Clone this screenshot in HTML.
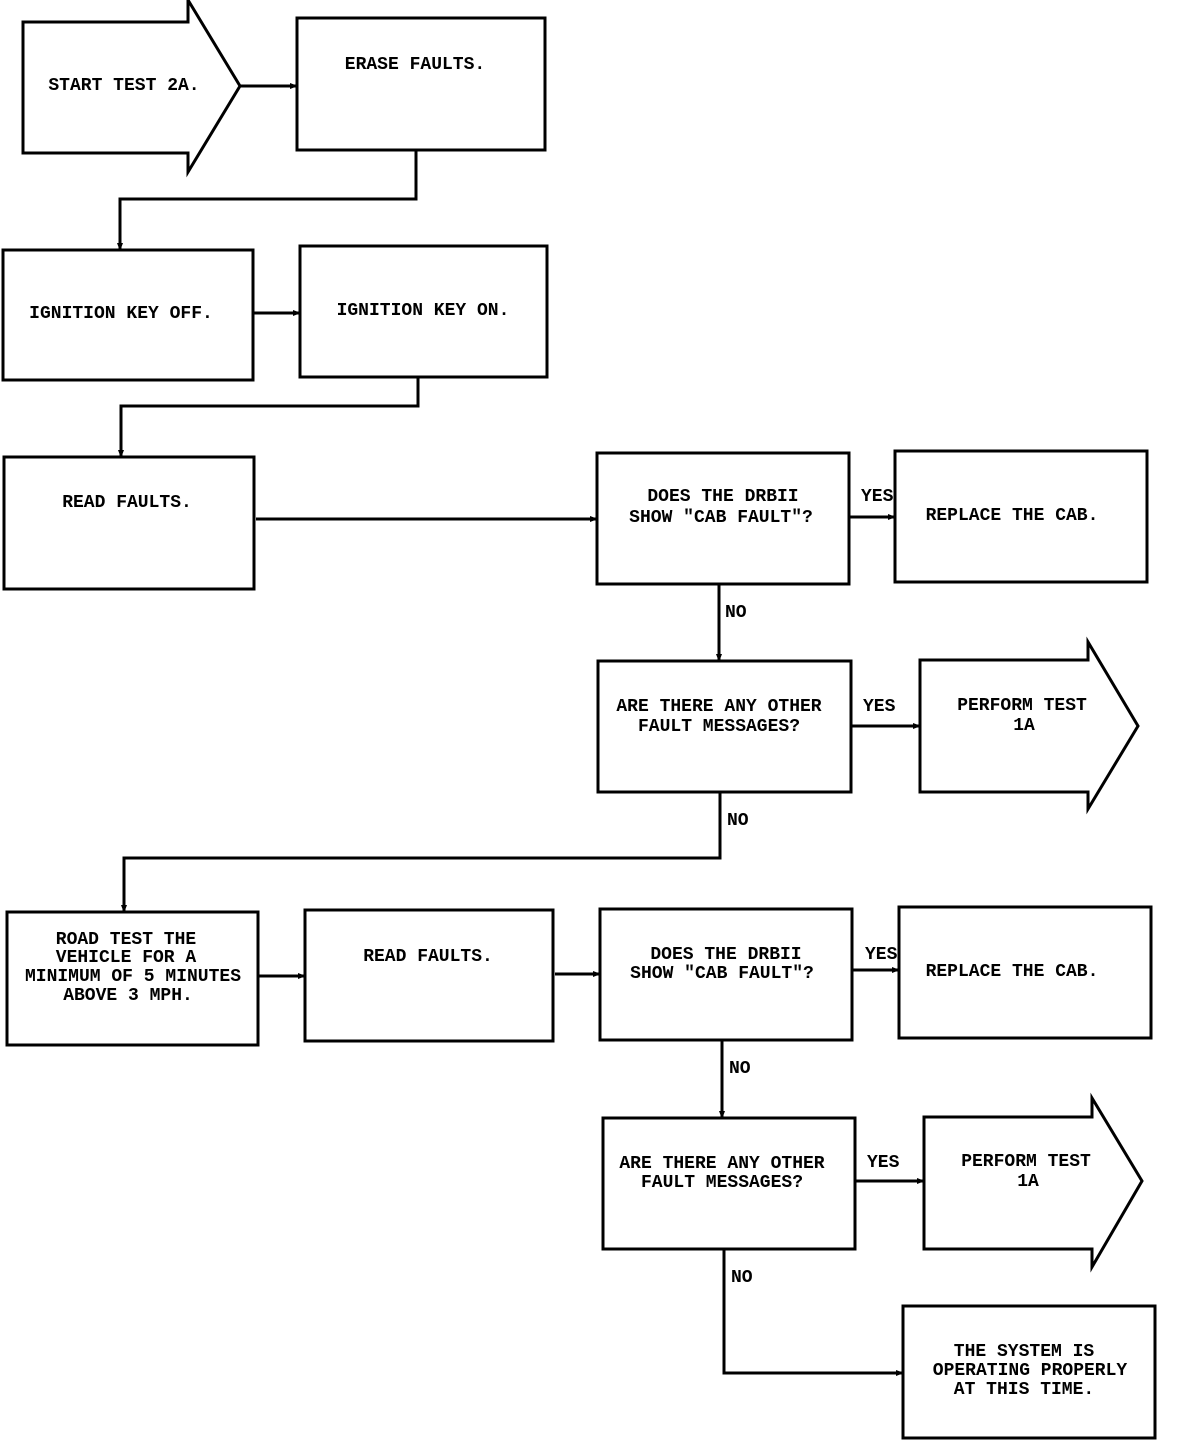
<!DOCTYPE html>
<html><head><meta charset="utf-8"><style>
html,body{margin:0;padding:0;background:#fff;}
svg{display:block;}
text{font-family:"Liberation Mono",monospace;font-weight:bold;font-size:18px;fill:#000;text-anchor:middle;dominant-baseline:central;}
.l{text-anchor:start;}
</style></head><body>
<svg width="1184" height="1442" viewBox="0 0 1184 1442" xmlns="http://www.w3.org/2000/svg">
<defs><marker id="a" markerWidth="8" markerHeight="8" refX="7" refY="4" orient="auto" markerUnits="userSpaceOnUse"><path d="M0,1 L8,4 L0,7 z" fill="#000"/></marker></defs>
<g fill="none" stroke="#000" stroke-width="3">
<polygon points="23,22 188,22 188,0 240,86 188,172 188,153 23,153"/>
<rect x="297" y="18" width="248" height="132"/>
<rect x="3" y="250" width="250" height="130"/>
<rect x="300" y="246" width="247" height="131"/>
<rect x="4" y="457" width="250" height="132"/>
<rect x="597" y="453" width="252" height="131"/>
<rect x="895" y="451" width="252" height="131"/>
<rect x="598" y="661" width="253" height="131"/>
<polygon points="920,660 1088,660 1088,642 1138,726 1088,809 1088,792 920,792"/>
<rect x="7" y="912" width="251" height="133"/>
<rect x="305" y="910" width="248" height="131"/>
<rect x="600" y="909" width="252" height="131"/>
<rect x="899" y="907" width="252" height="131"/>
<rect x="603" y="1118" width="252" height="131"/>
<polygon points="924,1117 1092,1117 1092,1098 1142,1181 1092,1267 1092,1249 924,1249"/>
<rect x="903" y="1306" width="252" height="132"/>
</g>
<g fill="none" stroke="#000" stroke-width="3" marker-end="url(#a)">
<path d="M240,86 H297"/>
<path d="M416,150 V199 H120 V250"/>
<path d="M253,313 H300"/>
<path d="M418,377 V406 H121 V457"/>
<path d="M256,519 H597"/>
<path d="M849,517 H895"/>
<path d="M719,584 V661"/>
<path d="M851,726 H920"/>
<path d="M720,792 V858 H124 V912"/>
<path d="M258,976 H305"/>
<path d="M555,974 H600"/>
<path d="M852,970 H899"/>
<path d="M722,1040 V1118"/>
<path d="M855,1181 H924"/>
<path d="M724,1249 V1373 H903"/>
</g>
<text x="124" y="86">START TEST 2A.</text>
<text x="415" y="65">ERASE FAULTS.</text>
<text x="121" y="314">IGNITION KEY OFF.</text>
<text x="423" y="311">IGNITION KEY ON.</text>
<text x="127" y="503">READ FAULTS.</text>
<text x="723" y="497">DOES THE DRBII</text>
<text x="721" y="518">SHOW "CAB FAULT"?</text>
<text class="l" x="861" y="497">YES</text>
<text x="1012" y="516">REPLACE THE CAB.</text>
<text class="l" x="725" y="613">NO</text>
<text x="719" y="707">ARE THERE ANY OTHER</text>
<text x="719" y="727">FAULT MESSAGES?</text>
<text class="l" x="863" y="707">YES</text>
<text x="1022" y="706">PERFORM TEST</text>
<text x="1024" y="726">1A</text>
<text class="l" x="727" y="821">NO</text>
<text x="126" y="940">ROAD TEST THE</text>
<text x="126" y="958">VEHICLE FOR A</text>
<text x="133" y="977">MINIMUM OF 5 MINUTES</text>
<text x="128" y="996">ABOVE 3 MPH.</text>
<text x="428" y="957">READ FAULTS.</text>
<text x="726" y="955">DOES THE DRBII</text>
<text x="722" y="974">SHOW "CAB FAULT"?</text>
<text class="l" x="865" y="955">YES</text>
<text x="1012" y="972">REPLACE THE CAB.</text>
<text class="l" x="729" y="1069">NO</text>
<text x="722" y="1164">ARE THERE ANY OTHER</text>
<text x="722" y="1183">FAULT MESSAGES?</text>
<text class="l" x="867" y="1163">YES</text>
<text x="1026" y="1162">PERFORM TEST</text>
<text x="1028" y="1182">1A</text>
<text class="l" x="731" y="1278">NO</text>
<text x="1024" y="1352">THE SYSTEM IS</text>
<text x="1030" y="1371">OPERATING PROPERLY</text>
<text x="1024" y="1390">AT THIS TIME.</text>
</svg>
</body></html>
